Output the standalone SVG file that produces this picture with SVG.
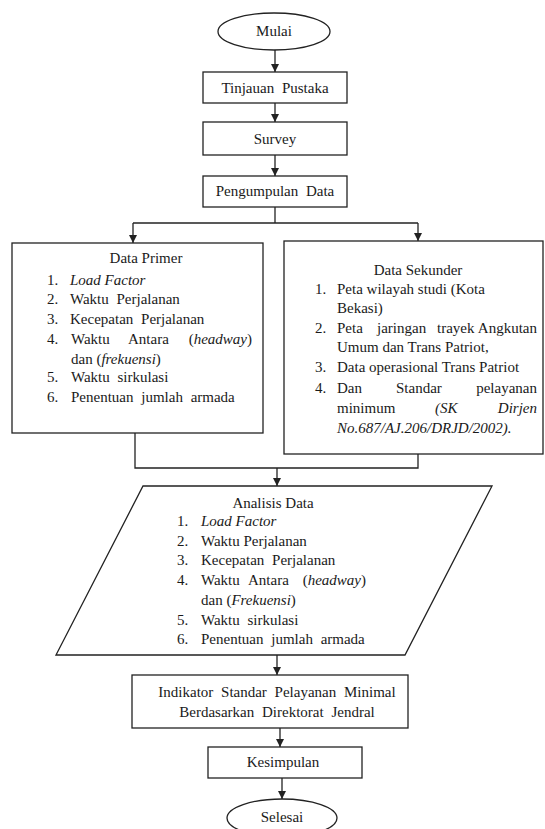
<svg xmlns="http://www.w3.org/2000/svg" width="545" height="829" viewBox="0 0 545 829">
<defs>
<style>
.s{fill:#fff;stroke:#222;stroke-width:1.3}
.c{fill:none;stroke:#222;stroke-width:1.3}
text{font-family:'Liberation Serif','Times New Roman',Tinos,'DejaVu Serif',serif;font-size:15px;fill:#1a1a1a}
.m{text-anchor:middle}
.e{text-anchor:end}
.i{font-style:italic}
.w{word-spacing:4px}
</style>
<marker id="a" viewBox="0 0 8 8" refX="8" refY="4" markerWidth="8" markerHeight="8" markerUnits="userSpaceOnUse" orient="auto">
<path d="M0,0 L8,4 L0,8 z" fill="#222"/>
</marker>
</defs>
<rect width="545" height="829" fill="#fff"/>
<g id="connectors">
<line class="c" x1="275" y1="50" x2="275" y2="72" marker-end="url(#a)"/>
<line class="c" x1="275" y1="103" x2="275" y2="122" marker-end="url(#a)"/>
<line class="c" x1="275" y1="155" x2="275" y2="176" marker-end="url(#a)"/>
<polyline class="c" points="275,207 275,223"/>
<polyline class="c" points="133,223 418,223"/>
<line class="c" x1="133" y1="223" x2="133" y2="243" marker-end="url(#a)"/>
<line class="c" x1="418" y1="223" x2="418" y2="241" marker-end="url(#a)"/>
<polyline class="c" points="135,433 135,468 418,468 418,454"/>
<line class="c" x1="277" y1="468" x2="277" y2="486" marker-end="url(#a)"/>
<line class="c" x1="277" y1="655" x2="277" y2="675" marker-end="url(#a)"/>
<line class="c" x1="280" y1="728" x2="280" y2="747" marker-end="url(#a)"/>
<line class="c" x1="282" y1="778" x2="282" y2="799" marker-end="url(#a)"/>
</g>
<g id="mulai">
<ellipse class="s" cx="274" cy="31.5" rx="56" ry="18.5"/>
<text class="m" x="274" y="36">Mulai</text>
</g>
<g id="tinjauan">
<rect class="s" x="203" y="72" width="144" height="31"/>
<text class="m w" x="275" y="93">Tinjauan Pustaka</text>
</g>
<g id="survey">
<rect class="s" x="203" y="122" width="144" height="33"/>
<text class="m" x="275" y="144">Survey</text>
</g>
<g id="pengumpulan">
<rect class="s" x="203" y="176" width="144" height="31"/>
<text class="m w" x="275" y="196">Pengumpulan Data</text>
</g>
<g id="data-primer">
<rect class="s" x="12" y="243" width="251" height="190"/>
<text class="m" x="146" y="263">Data Primer</text>
<text x="47" y="285">1.</text><text class="i" x="70" y="285">Load Factor</text>
<text x="47" y="304">2.</text><text class="w" x="70" y="304">Waktu Perjalanan</text>
<text x="47" y="324">3.</text><text class="w" x="70" y="324">Kecepatan Perjalanan</text>
<text x="47" y="344">4.</text><text x="71" y="344">Waktu</text><text x="128" y="344">Antara</text><text class="e" x="252" y="344">(<tspan class="i">headway</tspan>)</text>
<text x="71" y="364">dan (<tspan class="i">frekuensi</tspan>)</text>
<text x="47" y="382">5.</text><text class="w" x="71" y="382">Waktu sirkulasi</text>
<text x="47" y="402">6.</text><text class="w" x="71" y="402">Penentuan jumlah armada</text>
</g>
<g id="data-sekunder">
<rect class="s" x="284" y="241" width="259" height="213"/>
<text class="m" x="418" y="275">Data Sekunder</text>
<text x="315" y="294">1.</text><text x="337" y="294">Peta wilayah studi (Kota</text>
<text x="337" y="313">Bekasi)</text>
<text x="315" y="333">2.</text><text x="337" y="333">Peta</text><text x="377" y="333">jaringan</text><text x="437" y="333">trayek</text><text class="e" x="537" y="333">Angkutan</text>
<text x="337" y="352">Umum dan Trans Patriot,</text>
<text x="315" y="372">3.</text><text x="337" y="372">Data operasional Trans Patriot</text>
<text x="315" y="393">4.</text><text x="337" y="393">Dan</text><text x="396" y="393">Standar</text><text class="e" x="537" y="393">pelayanan</text>
<text x="337" y="413">minimum</text><text class="i" x="435" y="413" fill="#444">(SK</text><text class="i e" x="537" y="413" fill="#444">Dirjen</text>
<text class="i" x="337" y="433" fill="#444">No.687/AJ.206/DRJD/2002).</text>
</g>
<g id="analisis">
<polygon class="s" points="143,486 492,486 405,655 56,655"/>
<text class="m" x="273" y="508">Analisis Data</text>
<text x="177" y="526">1.</text><text class="i" x="201" y="526">Load Factor</text>
<text x="177" y="546">2.</text><text x="201" y="546">Waktu Perjalanan</text>
<text x="177" y="565">3.</text><text class="w" x="201" y="565">Kecepatan Perjalanan</text>
<text x="177" y="585">4.</text><text x="201" y="585">Waktu</text><text x="248" y="585">Antara</text><text class="e" x="366" y="585">(<tspan class="i">headway</tspan>)</text>
<text x="201" y="605">dan (<tspan class="i">Frekuensi</tspan>)</text>
<text x="177" y="625">5.</text><text class="w" x="201" y="625">Waktu sirkulasi</text>
<text x="177" y="644">6.</text><text class="w" x="201" y="644">Penentuan jumlah armada</text>
</g>
<g id="indikator">
<rect class="s" x="132" y="675" width="276" height="53"/>
<text class="m w" x="277" y="697">Indikator Standar Pelayanan Minimal</text>
<text class="m w" x="277" y="717">Berdasarkan Direktorat Jendral</text>
</g>
<g id="kesimpulan">
<rect class="s" x="208" y="747" width="154" height="31"/>
<text class="m" x="283" y="767">Kesimpulan</text>
</g>
<g id="selesai">
<ellipse class="s" cx="282" cy="818" rx="55" ry="19"/>
<text class="m" x="282" y="822">Selesai</text>
</g>
</svg>
